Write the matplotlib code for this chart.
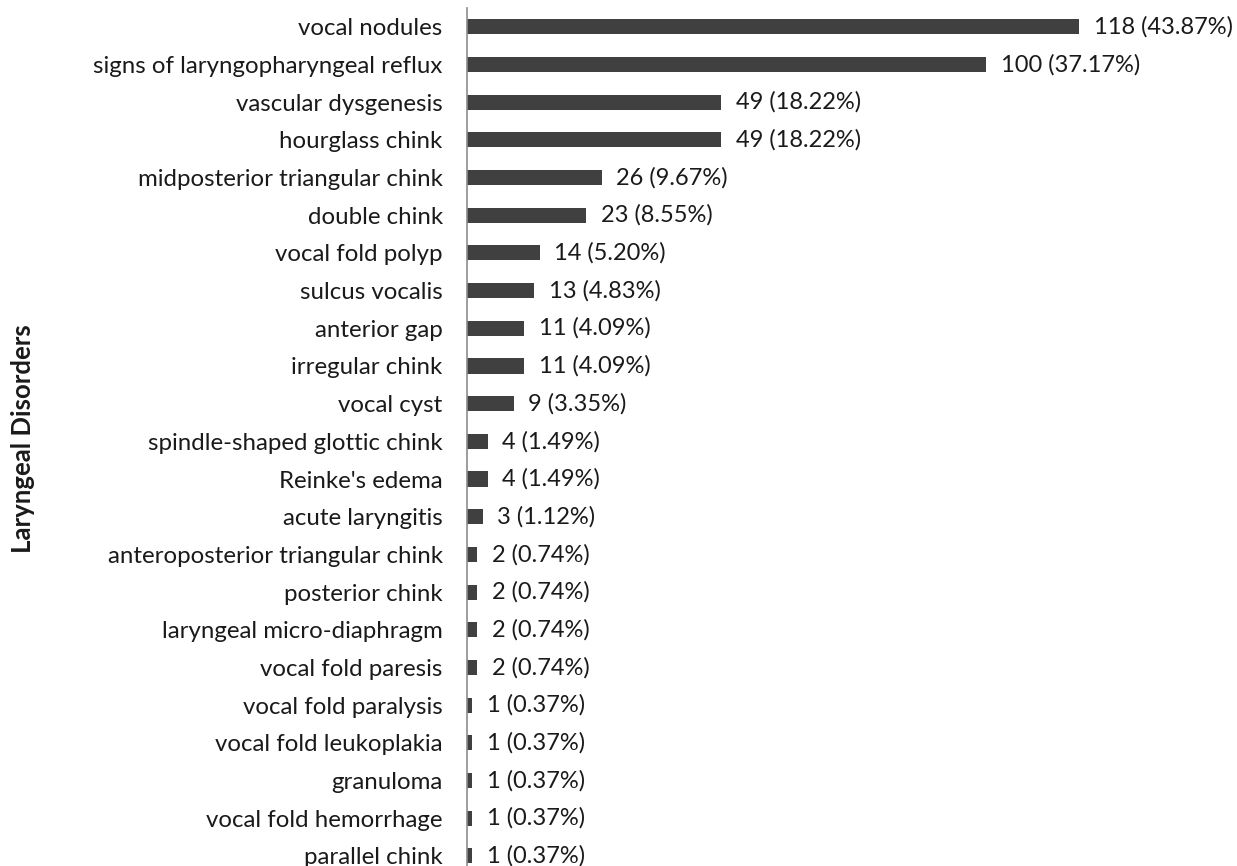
import matplotlib
matplotlib.use("Agg")
import matplotlib.pyplot as plt

# ----------------------------
# Data (top to bottom)
# ----------------------------
DISORDERS = [
    "vocal nodules",
    "signs of laryngopharyngeal reflux",
    "vascular dysgenesis",
    "hourglass chink",
    "midposterior triangular chink",
    "double chink",
    "vocal fold polyp",
    "sulcus vocalis",
    "anterior gap",
    "irregular chink",
    "vocal cyst",
    "spindle-shaped glottic chink",
    "Reinke's edema",
    "acute laryngitis",
    "anteroposterior triangular chink",
    "posterior chink",
    "laryngeal micro-diaphragm",
    "vocal fold paresis",
    "vocal fold paralysis",
    "vocal fold leukoplakia",
    "granuloma",
    "vocal fold hemorrhage",
    "parallel chink",
]
COUNTS = [118, 100, 49, 49, 26, 23, 14, 13, 11, 11, 9, 4, 4, 3, 2, 2, 2, 2, 1, 1, 1, 1, 1]
PERCENTS = [43.87, 37.17, 18.22, 18.22, 9.67, 8.55, 5.20, 4.83, 4.09, 4.09, 3.35,
            1.49, 1.49, 1.12, 0.74, 0.74, 0.74, 0.74, 0.37, 0.37, 0.37, 0.37, 0.37]

FONT = "Lato"
BAR_COLOR = "#404040"
TEXT_COLOR = "#1a1a1a"

W, H = 1237, 866
fig = plt.figure(figsize=(W / 100, H / 100), dpi=100)
ax = fig.add_axes([467 / W, 0.0, (W - 467) / W, 1 - 8 / H])

pos = list(range(len(DISORDERS)))
ax.barh(pos, COUNTS, height=0.4, color=BAR_COLOR)

# value labels: "count (percent%)" just right of each bar
for y, c, p in zip(pos, COUNTS, PERCENTS):
    ax.text(c + 2.8, y, f"{c} ({p:.2f}%)", va="center", ha="left",
            fontsize=17, family=FONT, color=TEXT_COLOR)

ax.set_xlim(0, (W - 467) / 5.19)
ax.set_ylim(22.27, -0.5)

ax.set_yticks(pos)
ax.set_yticklabels(DISORDERS, fontsize=17.3, family=FONT, color=TEXT_COLOR)
ax.tick_params(axis="y", length=0, pad=17.5)
ax.set_xticks([])

for side in ("top", "right", "bottom"):
    ax.spines[side].set_visible(False)
ax.spines["left"].set_color("#8c8c8c")
ax.spines["left"].set_linewidth(1.2)

fig.text(23 / W, 1 - 439 / H, "Laryngeal Disorders", rotation=90, va="center", ha="center",
         fontsize=18.5, fontweight="bold", family=FONT, color=TEXT_COLOR)

fig.savefig("out.png", dpi=100)
